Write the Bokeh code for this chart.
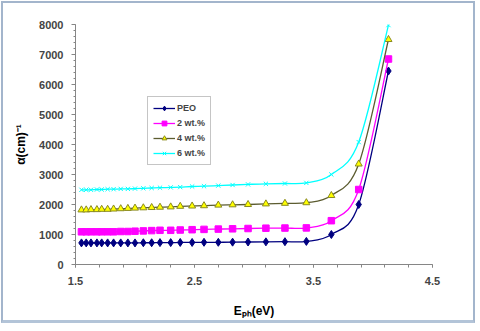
from bokeh.plotting import figure
from bokeh.models import (Range1d, FixedTicker, Legend, LegendItem,
                          ColumnDataSource)
from bokeh.embed import file_html
from bokeh.resources import INLINE

# ---- data ----
E_ph = [1.55, 1.59, 1.63, 1.68, 1.72, 1.77, 1.82, 1.88, 1.94, 2.00, 2.07, 2.14, 2.21,
        2.30, 2.38, 2.48, 2.58, 2.70, 2.82, 2.95, 3.10, 3.26, 3.44, 3.65, 3.88, 4.13]
peo = [720, 720, 720, 720, 720, 720, 720, 720, 720, 720, 725, 725, 730,
       730, 735, 735, 740, 740, 745, 750, 755, 760, 770, 1000, 2000, 6450]
wt2 = [1090, 1090, 1090, 1090, 1090, 1090, 1090, 1100, 1100, 1110, 1120, 1130, 1140,
       1140, 1150, 1160, 1170, 1180, 1190, 1200, 1210, 1215, 1220, 1460, 2500, 6850]
wt4 = [1820, 1820, 1830, 1830, 1840, 1840, 1850, 1860, 1870, 1880, 1890, 1900, 1910,
       1920, 1940, 1950, 1960, 1980, 1990, 2000, 2020, 2040, 2060, 2300, 3350, 7500]
wt6 = [2490, 2490, 2490, 2500, 2500, 2510, 2510, 2520, 2520, 2530, 2540, 2550, 2560,
       2570, 2580, 2600, 2610, 2630, 2650, 2670, 2690, 2700, 2720, 3000, 4080, 7980]
series_names = ["PEO", "2 wt.%", "4 wt.%", "6 wt.%"]
x_tick_labels = [1.5, 2.5, 3.5, 4.5]
x_minor = [1.5, 1.7, 1.9, 2.1, 2.3, 2.5, 2.7, 2.9, 3.1, 3.3, 3.5, 3.7, 3.9, 4.1, 4.3, 4.5]
y_ticks = [0, 1000, 2000, 3000, 4000, 5000, 6000, 7000, 8000]
y_minor = list(range(0, 8001, 200))
x_title = "Eₚₕ(eV)"
y_title = "α(cm)⁻¹"

FONT = "Liberation Sans"
AX = "#868686"

# figure sits inside a thin frame border
p = figure(width=474, height=322, output_backend="svg", toolbar_location=None,
           x_range=Range1d(1.5, 4.5), y_range=Range1d(0, 8000),
           min_border_left=72, min_border_right=45, min_border_top=21,
           min_border_bottom=61)
p.outline_line_color = None
p.xgrid.visible = False
p.ygrid.visible = False
p.background_fill_color = "white"
p.border_fill_color = "white"
p.styles = {"border": "2px solid #A3B5CC", "border-bottom": "3px solid #B3C4D8",
            "margin-left": "1px", "margin-top": "1px"}

# axes
xa = p.xaxis[0]
xa.ticker = FixedTicker(ticks=x_tick_labels, minor_ticks=x_minor)
xa.axis_line_color = AX
xa.major_tick_line_color = AX
xa.minor_tick_line_color = AX
xa.major_tick_in = 0
xa.major_tick_out = 3
xa.minor_tick_in = 0
xa.minor_tick_out = 3
xa.major_label_text_font = FONT
xa.major_label_text_font_style = "bold"
xa.major_label_text_font_size = "11px"
xa.major_label_standoff = 9
xa.axis_label = x_title
xa.axis_label_text_font = FONT
xa.axis_label_text_font_style = "bold"
xa.axis_label_text_font_size = "12px"
xa.axis_label_text_color = "black"
xa.axis_label_standoff = 16

ya = p.yaxis[0]
ya.ticker = FixedTicker(ticks=y_ticks, minor_ticks=y_minor)
ya.axis_line_color = AX
ya.major_tick_line_color = AX
ya.minor_tick_line_color = AX
ya.major_tick_in = 0
ya.major_tick_out = 4
ya.minor_tick_in = 0
ya.minor_tick_out = 2
ya.major_label_text_font = FONT
ya.major_label_text_font_style = "bold"
ya.major_label_text_font_size = "11px"
ya.major_label_standoff = 8
ya.axis_label = y_title
ya.axis_label_text_font = FONT
ya.axis_label_text_font_style = "bold"
ya.axis_label_text_font_size = "12px"
ya.axis_label_text_color = "black"
ya.axis_label_standoff = 8


def smooth_segments(xs, ys):
    """Bezier control points (Excel-like smoothing) computed from the data."""
    n = len(xs)
    x0, y0, x1, y1, cx0, cy0, cx1, cy1 = [], [], [], [], [], [], [], []
    for i in range(n - 1):
        xp, yp = (xs[i - 1], ys[i - 1]) if i > 0 else (xs[i], ys[i])
        xn2, yn2 = (xs[i + 2], ys[i + 2]) if i + 2 < n else (xs[i + 1], ys[i + 1])
        x0.append(xs[i]); y0.append(ys[i])
        x1.append(xs[i + 1]); y1.append(ys[i + 1])
        cx0.append(xs[i] + (xs[i + 1] - xp) / 6.0)
        cy0.append(ys[i] + (ys[i + 1] - yp) / 6.0)
        cx1.append(xs[i + 1] - (xn2 - xs[i]) / 6.0)
        cy1.append(ys[i + 1] - (yn2 - ys[i]) / 6.0)
    return ColumnDataSource(dict(x0=x0, y0=y0, x1=x1, y1=y1,
                                 cx0=cx0, cy0=cy0, cx1=cx1, cy1=cy1))


styles = [
    dict(data=peo, line="#000080", marker="diamond", size=8, fill="#000080", mline="#000080"),
    dict(data=wt2, line="#FF00FF", marker="square", size=6.5, fill="#FF00FF", mline="#FF00FF"),
    dict(data=wt4, line="#5C5C30", marker="triangle", size=7, fill="#FFFF00", mline="#8A8A20"),
    dict(data=wt6, line="#00FFFF", marker="x", size=6, fill="#00FFFF", mline="#00FFFF"),
]

items = []
for name, st in zip(series_names, styles):
    src = smooth_segments(E_ph, st["data"])
    r_line = p.bezier(x0="x0", y0="y0", x1="x1", y1="y1", cx0="cx0", cy0="cy0",
                      cx1="cx1", cy1="cy1", source=src, line_color=st["line"],
                      line_width=1.3)
    r_pts = p.scatter(E_ph, st["data"], marker=st["marker"], size=st["size"],
                      fill_color=st["fill"], line_color=st["mline"], line_width=1)
    items.append(LegendItem(label=name, renderers=[r_line, r_pts]))

legend = Legend(items=items, location=(72, 99), orientation="vertical",
                border_line_color="#8C8C8C", border_line_width=1,
                background_fill_color="white", background_fill_alpha=1,
                label_text_font=FONT, label_text_font_style="bold",
                label_text_font_size="9px", glyph_width=22, glyph_height=12,
                label_height=12, spacing=3, padding=5, margin=0,
                label_standoff=2)
p.add_layout(legend, "center")

open("out.html", "w").write(file_html(p, INLINE))
